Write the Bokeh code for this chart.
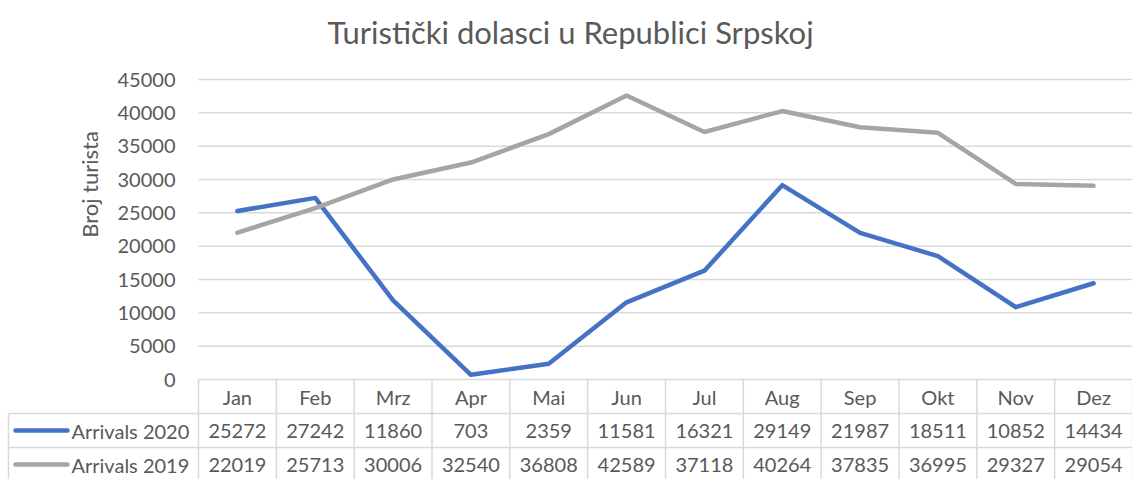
from bokeh.plotting import figure
from bokeh.models import Range1d
from bokeh.embed import file_html
from bokeh.resources import INLINE
from bokeh.core.properties import value

# ---------------- data ----------------
months = ["Jan", "Feb", "Mrz", "Apr", "Mai", "Jun", "Jul", "Aug", "Sep", "Okt", "Nov", "Dez"]
arrivals_2020 = [25272, 27242, 11860, 703, 2359, 11581, 16321, 29149, 21987, 18511, 10852, 14434]
arrivals_2019 = [22019, 25713, 30006, 32540, 36808, 42589, 37118, 40264, 37835, 36995, 29327, 29054]
series_names = ["Arrivals 2020", "Arrivals 2019"]
y_ticks = [0, 5000, 10000, 15000, 20000, 25000, 30000, 35000, 40000, 45000]
y_tick_labels = [str(v) for v in y_ticks]
title_text = "Turistički dolasci u Republici Srpskoj"
y_title = "Broj turista"

# ---------------- style / layout (pixels) ----------------
W, H = 1132, 479
PLOT_L, PLOT_R = 198, 1132        # plot area left / right
PLOT_T, PLOT_B = 79, 379          # y of top tick / zero line
ROW_PX = 34                       # table row height
TABLE_L = 8                       # left border of the legend column
FONT = "Lato"
TXT = "#595959"
GRID = "#D9D9D9"
BLUE = "#4472C4"
GRAY = "#A5A5A5"
LW = 4.5

n = len(months)
xs = list(range(n))
ppm = (PLOT_R - PLOT_L) / n                     # pixels per month column
upp = (y_ticks[-1] - y_ticks[0]) / (PLOT_B - PLOT_T)  # value units per pixel

x_start = -0.5 - PLOT_L / ppm
x_end = n - 0.5 + (W - PLOT_R) / ppm
y_start = -(H - PLOT_B) * upp
y_end = PLOT_B * upp

p = figure(width=W, height=H, x_range=Range1d(x_start, x_end),
           y_range=Range1d(y_start, y_end), output_backend="svg",
           toolbar_location=None, x_axis_type=None, y_axis_type=None, min_border=0)
p.outline_line_color = None
p.background_fill_color = "white"
p.border_fill_color = "white"
p.xgrid.visible = False
p.ygrid.visible = False
# pixel range (y from top) and table-row range
p.extra_x_ranges = {"px": Range1d(0, W)}
p.extra_y_ranges = {"px": Range1d(H, 0),
                    "rows": Range1d(-(H - PLOT_B) / ROW_PX, PLOT_B / ROW_PX)}

# gridlines at tick values
p.segment(x0=[-0.5] * len(y_ticks), x1=[n - 0.5] * len(y_ticks), y0=y_ticks, y1=y_ticks,
          line_color=GRID, line_width=1.5)
# y tick labels
p.text(x=[175] * len(y_ticks), y=y_ticks, text=y_tick_labels, x_range_name="px",
       text_align="right", text_baseline="middle", text_font=value(FONT),
       text_font_size="20px", text_color=TXT)

# series
p.line(xs, arrivals_2020, line_width=LW, color=BLUE, line_join="round", line_cap="round")
p.line(xs, arrivals_2019, line_width=LW, color=GRAY, line_join="round", line_cap="round")

# title and axis title
p.text(x=[570], y=[31], text=[title_text], x_range_name="px", y_range_name="px",
       text_align="center", text_baseline="middle", text_font=value(FONT),
       text_font_size="31px", text_color=TXT)
p.text(x=[89], y=[184], text=[y_title], x_range_name="px", y_range_name="px",
       angle=1.5707963, text_align="center", text_baseline="middle",
       text_font=value(FONT), text_font_size="22px", text_color=TXT)

# ---------------- data table ----------------
col_edges = [-0.5 + k for k in range(n + 1)]
p.segment(x0=col_edges, y0=[0] * len(col_edges), x1=col_edges, y1=[-3] * len(col_edges),
          y_range_name="rows", line_color=GRID, line_width=1.5)
lx = -0.5 - (PLOT_L - TABLE_L) / ppm
p.segment(x0=[lx], y0=[-1], x1=[lx], y1=[-3], y_range_name="rows",
          line_color=GRID, line_width=1.5)
p.segment(x0=[lx, lx], y0=[-1, -2], x1=[n - 0.5, n - 0.5], y1=[-1, -2],
          y_range_name="rows", line_color=GRID, line_width=1.5)

p.text(x=xs, y=[-0.5] * n, text=months, y_range_name="rows", text_align="center",
       text_baseline="middle", text_font=value(FONT), text_font_size="20px",
       text_color=TXT)
for row, (vals, name, col) in enumerate(zip([arrivals_2020, arrivals_2019], series_names, [BLUE, GRAY])):
    yc = -1.5 - row
    p.text(x=xs, y=[yc] * n, text=[str(v) for v in vals], y_range_name="rows",
           text_align="center", text_baseline="middle", text_font=value(FONT),
           text_font_size="20px", text_color=TXT)
    p.segment(x0=[TABLE_L + 7], y0=[yc], x1=[TABLE_L + 59], y1=[yc],
              x_range_name="px", y_range_name="rows",
              line_color=col, line_width=LW, line_cap="round")
    p.text(x=[TABLE_L + 63], y=[yc], text=[name], x_range_name="px", y_range_name="rows",
           text_align="left", text_baseline="middle", text_font=value(FONT),
           text_font_size="20px", text_color=TXT)

open("out.html", "w").write(file_html(p, INLINE))
